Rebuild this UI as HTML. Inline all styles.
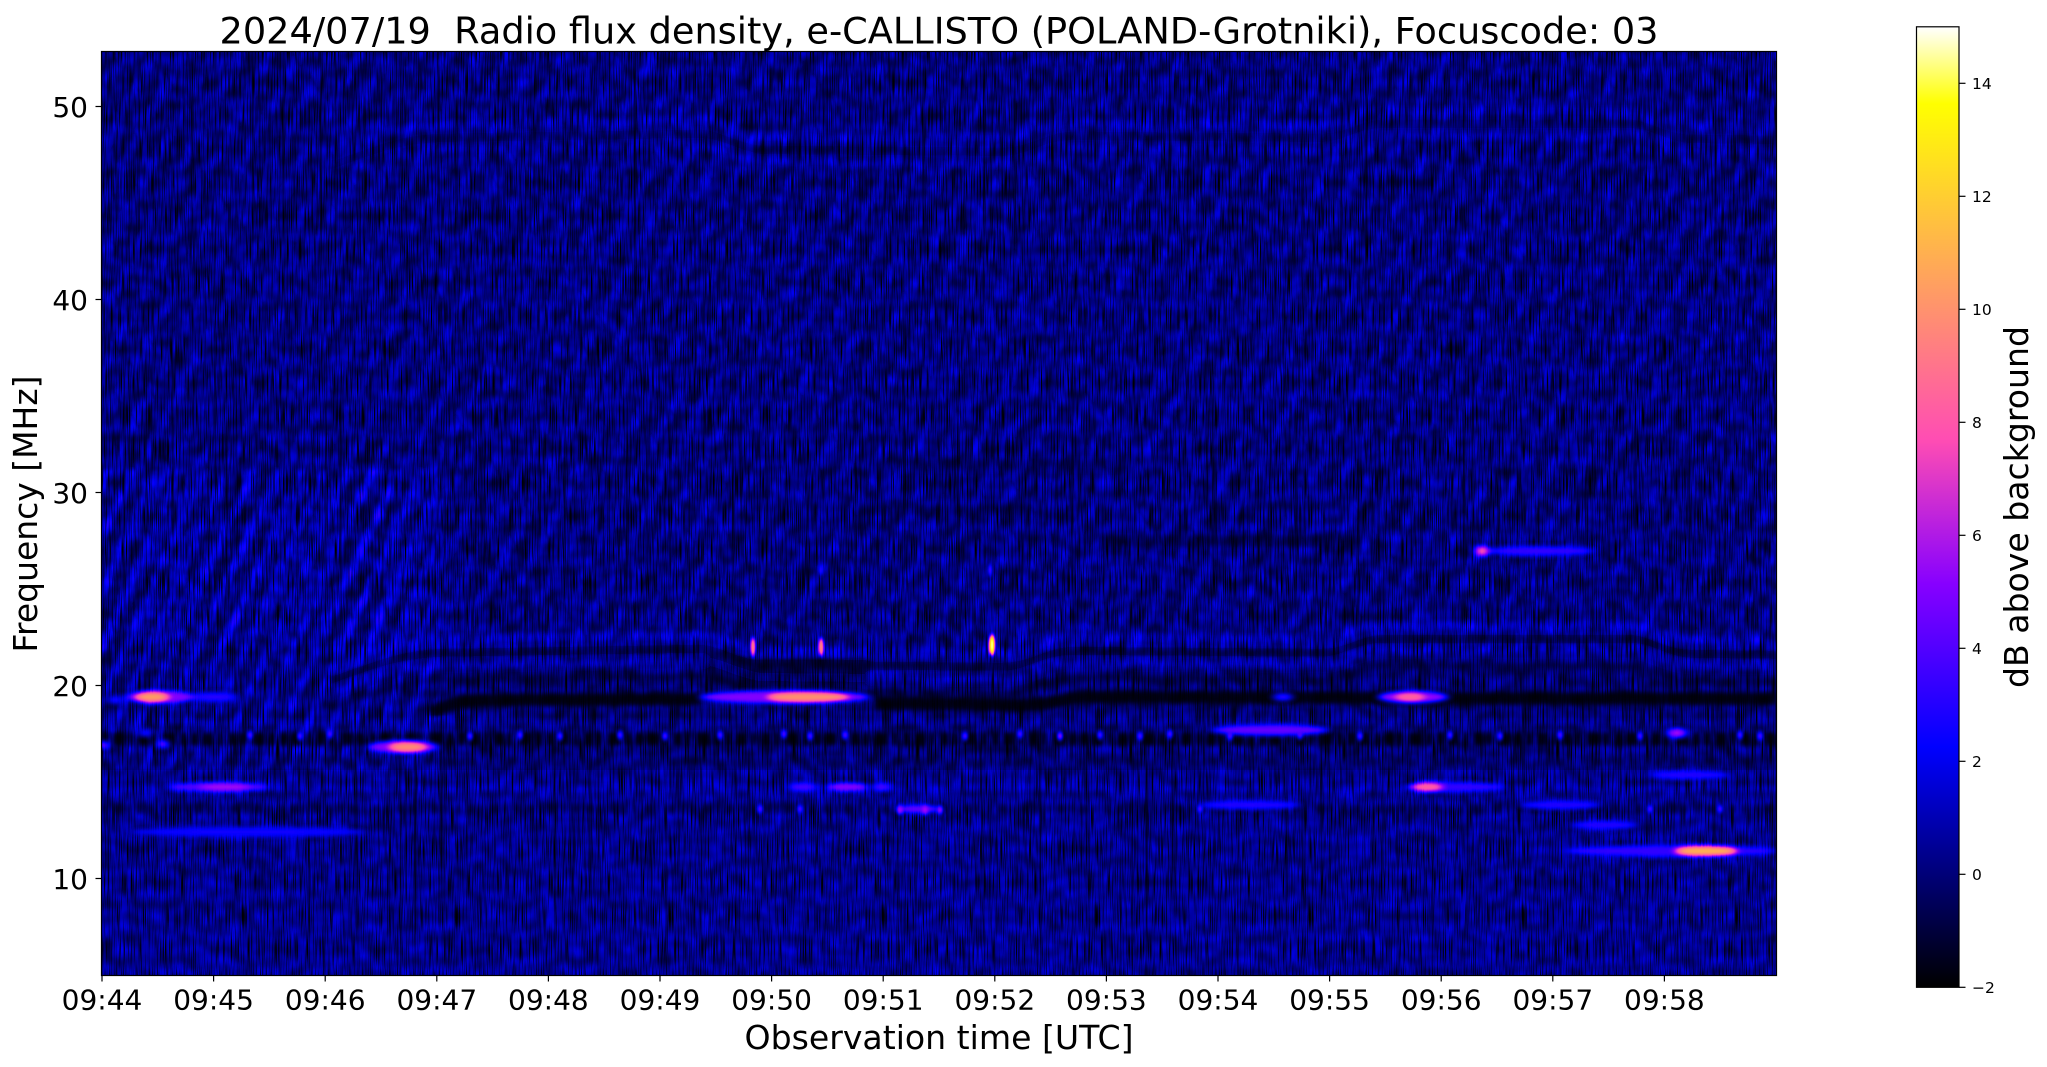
<!DOCTYPE html>
<html><head><meta charset="utf-8">
<style>
html,body{margin:0;padding:0;background:#fff;}
svg{display:block;}
text{font-family:"DejaVu Sans","Liberation Sans",sans-serif;fill:#000;}
</style></head><body>
<svg xmlns="http://www.w3.org/2000/svg" xmlns:xlink="http://www.w3.org/1999/xlink" width="2047" height="1067" viewBox="0 0 2047 1067">
<defs>
<clipPath id="pc"><rect x="101.5" y="51.5" width="1675" height="924"/></clipPath>
<filter id="cmap" filterUnits="userSpaceOnUse" x="101" y="51" width="1677" height="926" color-interpolation-filters="sRGB">
 <feComponentTransfer>
  <feFuncR type="table" tableValues="0 0 0 0 0 0 0 0 0 0 0 0 0 .031 .094 .156 .219 .281 .344 .406 .469 .531 .594 .656 .719 .781 .844 .906 .969 1 1 1 1 1 1 1 1 1 1 1 1 1 1 1 1 1 1 1 1 1 1"/>
  <feFuncG type="table" tableValues="0 0 0 0 0 0 0 0 0 0 0 0 0 0 0 0 0 0 0 0 0 0 .04 .08 .12 .16 .2 .24 .28 .32 .36 .4 .44 .48 .52 .56 .6 .64 .68 .72 .76 .8 .84 .88 .92 .96 1 1 1 1 1"/>
  <feFuncB type="table" tableValues="0 .08 .16 .24 .32 .4 .48 .56 .64 .72 .8 .88 .96 1 1 1 1 1 1 1 1 1 .96 .92 .88 .84 .8 .76 .72 .68 .64 .6 .56 .52 .48 .44 .4 .36 .32 .28 .24 .2 .16 .12 .08 .04 0 .25 .5 .75 1"/>
 </feComponentTransfer>
</filter>
<filter id="mottle" filterUnits="userSpaceOnUse" x="101" y="51" width="1677" height="926" color-interpolation-filters="sRGB">
 <feTurbulence type="fractalNoise" baseFrequency="0.07 0.09" numOctaves="1" seed="7"/>
 <feColorMatrix type="matrix" values="0.22 0 0 0 0.03  0.22 0 0 0 0.03  0.22 0 0 0 0.03  0 0 0 0 1"/>
</filter>
<filter id="vs1" filterUnits="userSpaceOnUse" x="101" y="51" width="1677" height="926" color-interpolation-filters="sRGB">
 <feTurbulence type="fractalNoise" baseFrequency="0.35 0.003" numOctaves="1" seed="3"/>
 <feColorMatrix type="matrix" values="0 0 0 0 0  0 0 0 0 0  0 0 0 0 0  3 0 0 0 -1.85"/>
</filter>
<filter id="vs2" filterUnits="userSpaceOnUse" x="101" y="51" width="1677" height="926" color-interpolation-filters="sRGB">
 <feTurbulence type="fractalNoise" baseFrequency="1.2 0.03" numOctaves="1" seed="11"/>
 <feColorMatrix type="matrix" values="0 0 0 0 0  0 0 0 0 0  0 0 0 0 0  4 0 0 0 -1.95"/>
</filter>
<filter id="bl1" filterUnits="userSpaceOnUse" x="101" y="51" width="1677" height="926"><feGaussianBlur stdDeviation="1.5"/></filter>
<filter id="bl2" filterUnits="userSpaceOnUse" x="101" y="51" width="1677" height="926"><feGaussianBlur stdDeviation="2 2"/></filter>
<filter id="blB" filterUnits="userSpaceOnUse" x="101" y="51" width="1677" height="926"><feGaussianBlur stdDeviation="3 2.5"/></filter>
<filter id="blS" filterUnits="userSpaceOnUse" x="101" y="51" width="1677" height="926"><feGaussianBlur stdDeviation="4 2.2"/></filter>
<filter id="blK" filterUnits="userSpaceOnUse" x="101" y="51" width="1677" height="926"><feGaussianBlur stdDeviation="1.2 2"/></filter>
<pattern id="diagL" patternUnits="userSpaceOnUse" width="26" height="80" patternTransform="rotate(28)">
 <rect x="0" y="0" width="9" height="80" fill="#fff"/>
</pattern>
<pattern id="diagL2" patternUnits="userSpaceOnUse" width="22" height="80" patternTransform="rotate(24)">
 <rect x="0" y="0" width="8" height="80" fill="#fff"/>
</pattern>
<pattern id="diagR" patternUnits="userSpaceOnUse" width="36" height="48">
 <path d="M4,0 L12,20 M22,24 L30,44" stroke="#000" stroke-width="4" fill="none"/>
</pattern>
<path id="rib" fill="none" d="M330,668 C380,650 400,642 440,640 L700,636 C720,636 735,648 760,652 L1000,654 C1030,654 1040,640 1070,638 L1320,640 C1345,640 1355,628 1380,626 L1630,626 C1650,626 1665,640 1690,641 L1776,642"/>
<linearGradient id="cbg" x1="0" y1="1" x2="0" y2="0">
 <stop offset="0" stop-color="#000000"/>
 <stop offset="0.25" stop-color="#0000ff"/>
 <stop offset="0.42" stop-color="#8700ff"/>
 <stop offset="0.57" stop-color="#ff4db3"/>
 <stop offset="0.92" stop-color="#ffff00"/>
 <stop offset="1" stop-color="#ffffff"/>
</linearGradient>
</defs>

<!-- Spectrogram (grayscale -> gnuplot2 colormap) -->
<g clip-path="url(#pc)">
<g filter="url(#cmap)">
 <rect x="101" y="51" width="1677" height="926" fill="#262626"/>
 <rect x="101" y="51" width="1677" height="926" fill="#000" filter="url(#mottle)"/>
 <g filter="url(#bl1)">
  <rect x="101" y="51" width="1677" height="600" fill="url(#diagL)" opacity="0.05"/>
  <rect x="101" y="470" width="340" height="300" fill="url(#diagL2)" opacity="0.09"/>
  <rect x="101" y="51" width="1677" height="590" fill="url(#diagR)" opacity="0.22"/>
 </g>
 <!-- ribbons -->
 <g filter="url(#blB)">
  <use xlink:href="#rib" stroke="#fff" stroke-opacity="0.08" stroke-width="9"/>
  <use xlink:href="#rib" transform="translate(0,13)" stroke="#000" stroke-opacity="0.4" stroke-width="8"/>
  <use xlink:href="#rib" transform="translate(0,25)" stroke="#fff" stroke-opacity="0.07" stroke-width="8"/>
  <use xlink:href="#rib" transform="translate(0,40)" stroke="#000" stroke-opacity="0.35" stroke-width="7"/>
  <use xlink:href="#rib" transform="translate(0,-515)" stroke="#fff" stroke-opacity="0.06" stroke-width="9"/>
  <use xlink:href="#rib" transform="translate(0,-490)" stroke="#fff" stroke-opacity="0.05" stroke-width="8"/>
  <use xlink:href="#rib" transform="translate(0,-502)" stroke="#000" stroke-opacity="0.2" stroke-width="6"/>
  <!-- dark zones -->
  <rect x="705" y="655" width="165" height="32" fill="#000" opacity="0.3"/>
  <rect x="1100" y="535" width="260" height="12" fill="#000" opacity="0.35"/>
  <rect x="860" y="505" width="180" height="10" fill="#000" opacity="0.25"/>
  <rect x="900" y="460" width="220" height="10" fill="#000" opacity="0.25"/>
  <!-- black band ~19.4 MHz -->
  <path d="M430,713 C450,703 465,700 490,700 L700,699" stroke="#000" stroke-opacity="0.85" stroke-width="13" fill="none"/>
  <path d="M875,703 L1030,705 C1050,705 1062,698 1085,697 L1776,699" stroke="#000" stroke-opacity="0.85" stroke-width="13" fill="none"/>
  <!-- light lines -->
  <line x1="102" y1="788" x2="1776" y2="788" stroke="#fff" stroke-opacity="0.05" stroke-width="6"/>
  <line x1="102" y1="722" x2="1776" y2="722" stroke="#fff" stroke-opacity="0.04" stroke-width="6"/>
 </g>
 <!-- dotted dark bands -->
 <g filter="url(#bl2)">
  <line x1="102" y1="739" x2="1776" y2="739" stroke="#000" stroke-opacity="0.85" stroke-width="13" stroke-dasharray="7 4 11 5 4 6 9 3 5 7 13 4 6 5"/>
  <line x1="102" y1="809" x2="1776" y2="809" stroke="#000" stroke-opacity="0.6" stroke-width="9" stroke-dasharray="5 6 9 4 3 7 8 5 4 8"/>
  <line x1="102" y1="762" x2="1776" y2="762" stroke="#000" stroke-opacity="0.3" stroke-width="7" stroke-dasharray="4 9 7 6 3 8"/>
  <line x1="102" y1="866" x2="1776" y2="866" stroke="#000" stroke-opacity="0.25" stroke-width="6" stroke-dasharray="3 10 6 7"/>
 </g>
 <!-- lift lower region slightly -->
 <rect x="101" y="770" width="1677" height="207" fill="#fff" opacity="0.03"/>
 <!-- vertical streaks -->
 <rect x="101" y="51" width="1677" height="926" fill="#000" filter="url(#vs1)"/>
 <rect x="101" y="51" width="1677" height="926" fill="#000" filter="url(#vs2)"/>
 <!-- bright features -->
 <g filter="url(#blS)">
  <ellipse cx="160" cy="697" rx="34" ry="6.5" fill="#696969"/>
  <ellipse cx="152" cy="697" rx="16" ry="5" fill="#b9b9b9"/>
  <ellipse cx="215" cy="697" rx="22" ry="5" fill="#4b4b4b"/>
  <ellipse cx="115" cy="700" rx="6" ry="4" fill="#505050"/>
  <ellipse cx="785" cy="697" rx="85" ry="6.5" fill="#696969"/>
  <ellipse cx="808" cy="697" rx="40" ry="5" fill="#b4b4b4"/>
  <ellipse cx="403" cy="747" rx="35" ry="6.5" fill="#696969"/>
  <ellipse cx="408" cy="747" rx="18" ry="5" fill="#b0b0b0"/>
  <ellipse cx="219" cy="787" rx="50" ry="5" fill="#5a5a5a"/>
  <ellipse cx="225" cy="787" rx="25" ry="4.5" fill="#727272"/>
  <ellipse cx="803" cy="787" rx="14" ry="4.5" fill="#555555"/>
  <ellipse cx="847" cy="787" rx="20" ry="4.5" fill="#6a6a6a"/>
  <ellipse cx="882" cy="787" rx="10" ry="4.5" fill="#555555"/>
  <ellipse cx="918" cy="809" rx="22" ry="4.5" fill="#5f5f5f"/>
  <ellipse cx="1482" cy="551" rx="6" ry="5.5" fill="#a5a5a5"/>
  <ellipse cx="1540" cy="551" rx="55" ry="5" fill="#505050"/>
  <ellipse cx="1270" cy="730" rx="58" ry="5.5" fill="#5f5f5f"/>
  <ellipse cx="1413" cy="697" rx="35" ry="6" fill="#6e6e6e"/>
  <ellipse cx="1410" cy="697" rx="14" ry="5" fill="#9b9b9b"/>
  <ellipse cx="1283" cy="697" rx="10" ry="4" fill="#505050"/>
  <ellipse cx="1455" cy="787" rx="50" ry="5" fill="#505050"/>
  <ellipse cx="1427" cy="787" rx="15" ry="5" fill="#9b9b9b"/>
  <ellipse cx="1670" cy="851" rx="106" ry="6" fill="#505050"/>
  <ellipse cx="1706" cy="851" rx="30" ry="5" fill="#c3c3c3"/>
  <ellipse cx="1605" cy="825" rx="33" ry="4.5" fill="#4b4b4b"/>
  <ellipse cx="1677" cy="733" rx="10" ry="5" fill="#737373"/>
  <ellipse cx="1250" cy="805" rx="50" ry="4.5" fill="#4b4b4b"/>
  <ellipse cx="248" cy="832" rx="118" ry="5" fill="#444444"/>
  <ellipse cx="103" cy="745" rx="5" ry="4" fill="#737373"/>
  <ellipse cx="163" cy="744" rx="5" ry="4" fill="#6e6e6e"/>
  <ellipse cx="145" cy="733" rx="5" ry="4" fill="#555555"/>
  <ellipse cx="1560" cy="805" rx="40" ry="4.5" fill="#4b4b4b"/>
  <ellipse cx="1690" cy="775" rx="40" ry="4.5" fill="#4b4b4b"/>
 </g>
 <g filter="url(#blK)" fill="#5a5a5a">
  <ellipse cx="250" cy="735" rx="3" ry="4"/><ellipse cx="300" cy="736" rx="3" ry="4"/><ellipse cx="330" cy="734" rx="3" ry="4"/>
  <ellipse cx="470" cy="736" rx="3" ry="4"/><ellipse cx="520" cy="735" rx="3" ry="4"/><ellipse cx="560" cy="736" rx="3" ry="4"/>
  <ellipse cx="620" cy="735" rx="3" ry="4"/><ellipse cx="665" cy="736" rx="3" ry="4"/><ellipse cx="720" cy="735" rx="3" ry="4"/>
  <ellipse cx="784" cy="734" rx="3" ry="4"/><ellipse cx="810" cy="736" rx="3" ry="4"/><ellipse cx="845" cy="735" rx="3" ry="4"/>
  <ellipse cx="965" cy="736" rx="3" ry="4"/><ellipse cx="1020" cy="734" rx="3" ry="4"/><ellipse cx="1060" cy="736" rx="3" ry="4" fill="#6e6e6e"/>
  <ellipse cx="1100" cy="735" rx="3" ry="4"/><ellipse cx="1140" cy="736" rx="3" ry="4"/><ellipse cx="1170" cy="734" rx="3" ry="4"/>
  <ellipse cx="1230" cy="736" rx="3" ry="4"/><ellipse cx="1300" cy="735" rx="3" ry="4"/><ellipse cx="1360" cy="736" rx="3" ry="4"/>
  <ellipse cx="1450" cy="735" rx="3" ry="4"/><ellipse cx="1500" cy="736" rx="3" ry="4"/><ellipse cx="1560" cy="735" rx="3" ry="4"/>
  <ellipse cx="1640" cy="736" rx="3" ry="4"/><ellipse cx="1740" cy="735" rx="3" ry="4"/><ellipse cx="1760" cy="736" rx="3" ry="4"/>
  <ellipse cx="760" cy="809" rx="3" ry="4"/><ellipse cx="800" cy="809" rx="3" ry="4"/><ellipse cx="900" cy="810" rx="3" ry="4" fill="#737373"/>
  <ellipse cx="925" cy="810" rx="3" ry="4" fill="#737373"/><ellipse cx="940" cy="810" rx="3" ry="4" fill="#6e6e6e"/>
  <ellipse cx="1200" cy="809" rx="3" ry="4"/><ellipse cx="1650" cy="809" rx="3" ry="4"/><ellipse cx="1720" cy="809" rx="3" ry="4"/>
  <!-- spikes -->
  <ellipse cx="753" cy="647" rx="2.5" ry="9" fill="#aaaaaa"/>
  <ellipse cx="821" cy="647" rx="2.5" ry="9" fill="#b4b4b4"/>
  <ellipse cx="992" cy="645" rx="3" ry="10" fill="#fafafa"/>
  <ellipse cx="821" cy="570" rx="2" ry="5" fill="#505050"/>
  <ellipse cx="990" cy="570" rx="2" ry="6" fill="#5a5a5a"/>
 </g>
</g>
</g>

<!-- Axes frame -->
<rect x="101.5" y="51.5" width="1675" height="924" fill="none" stroke="#000" stroke-width="1.2"/>

<!-- X ticks -->
<g stroke="#000" stroke-width="1.2">
 <line x1="102" y1="975.5" x2="102" y2="981.5"/><line x1="213.6" y1="975.5" x2="213.6" y2="981.5"/>
 <line x1="325.2" y1="975.5" x2="325.2" y2="981.5"/><line x1="436.8" y1="975.5" x2="436.8" y2="981.5"/>
 <line x1="548.4" y1="975.5" x2="548.4" y2="981.5"/><line x1="660" y1="975.5" x2="660" y2="981.5"/>
 <line x1="771.6" y1="975.5" x2="771.6" y2="981.5"/><line x1="883.2" y1="975.5" x2="883.2" y2="981.5"/>
 <line x1="994.8" y1="975.5" x2="994.8" y2="981.5"/><line x1="1106.4" y1="975.5" x2="1106.4" y2="981.5"/>
 <line x1="1218" y1="975.5" x2="1218" y2="981.5"/><line x1="1329.6" y1="975.5" x2="1329.6" y2="981.5"/>
 <line x1="1441.2" y1="975.5" x2="1441.2" y2="981.5"/><line x1="1552.8" y1="975.5" x2="1552.8" y2="981.5"/>
 <line x1="1664.4" y1="975.5" x2="1664.4" y2="981.5"/>
</g>
<g font-size="28" text-anchor="middle">
 <text x="102" y="1009.5">09:44</text><text x="213.6" y="1009.5">09:45</text>
 <text x="325.2" y="1009.5">09:46</text><text x="436.8" y="1009.5">09:47</text>
 <text x="548.4" y="1009.5">09:48</text><text x="660" y="1009.5">09:49</text>
 <text x="771.6" y="1009.5">09:50</text><text x="883.2" y="1009.5">09:51</text>
 <text x="994.8" y="1009.5">09:52</text><text x="1106.4" y="1009.5">09:53</text>
 <text x="1218" y="1009.5">09:54</text><text x="1329.6" y="1009.5">09:55</text>
 <text x="1441.2" y="1009.5">09:56</text><text x="1552.8" y="1009.5">09:57</text>
 <text x="1664.4" y="1009.5">09:58</text>
</g>

<!-- Y ticks -->
<g stroke="#000" stroke-width="1.2">
 <line x1="95.5" y1="106.5" x2="101.5" y2="106.5"/>
 <line x1="95.5" y1="299.5" x2="101.5" y2="299.5"/>
 <line x1="95.5" y1="492.5" x2="101.5" y2="492.5"/>
 <line x1="95.5" y1="685.5" x2="101.5" y2="685.5"/>
 <line x1="95.5" y1="878.5" x2="101.5" y2="878.5"/>
</g>
<g font-size="28" text-anchor="end">
 <text x="88" y="117">50</text>
 <text x="88" y="310">40</text>
 <text x="88" y="503">30</text>
 <text x="88" y="696">20</text>
 <text x="88" y="889">10</text>
</g>

<!-- Title and axis labels -->
<text x="219.5" y="43.5" font-size="36.7" textLength="1439" lengthAdjust="spacingAndGlyphs" xml:space="preserve">2024/07/19  Radio flux density, e-CALLISTO (POLAND-Grotniki), Focuscode: 03</text>
<text x="939" y="1049" font-size="33" text-anchor="middle" textLength="389" lengthAdjust="spacingAndGlyphs">Observation time [UTC]</text>
<text transform="translate(37,514) rotate(-90)" font-size="33" text-anchor="middle" textLength="277" lengthAdjust="spacingAndGlyphs">Frequency [MHz]</text>

<!-- Colorbar -->
<rect x="1916.5" y="26.8" width="42.5" height="960.5" fill="url(#cbg)"/>
<rect x="1916.5" y="26.8" width="42.5" height="960.5" fill="none" stroke="#000" stroke-width="1.2"/>
<g stroke="#000" stroke-width="1.2">
 <line x1="1959" y1="987.3" x2="1965.5" y2="987.3"/>
 <line x1="1959" y1="874.3" x2="1965.5" y2="874.3"/>
 <line x1="1959" y1="761.3" x2="1965.5" y2="761.3"/>
 <line x1="1959" y1="648.3" x2="1965.5" y2="648.3"/>
 <line x1="1959" y1="535.3" x2="1965.5" y2="535.3"/>
 <line x1="1959" y1="422.3" x2="1965.5" y2="422.3"/>
 <line x1="1959" y1="309.3" x2="1965.5" y2="309.3"/>
 <line x1="1959" y1="196.3" x2="1965.5" y2="196.3"/>
 <line x1="1959" y1="83.3" x2="1965.5" y2="83.3"/>
</g>
<g font-size="15.5">
 <text x="1972" y="992.8">−2</text>
 <text x="1972" y="879.8">0</text>
 <text x="1972" y="766.8">2</text>
 <text x="1972" y="653.8">4</text>
 <text x="1972" y="540.8">6</text>
 <text x="1972" y="427.8">8</text>
 <text x="1972" y="314.8">10</text>
 <text x="1972" y="201.8">12</text>
 <text x="1972" y="88.8">14</text>
</g>
<text transform="translate(2028,507) rotate(-90)" font-size="33" text-anchor="middle" textLength="362" lengthAdjust="spacingAndGlyphs">dB above background</text>
</svg>
</body></html>
